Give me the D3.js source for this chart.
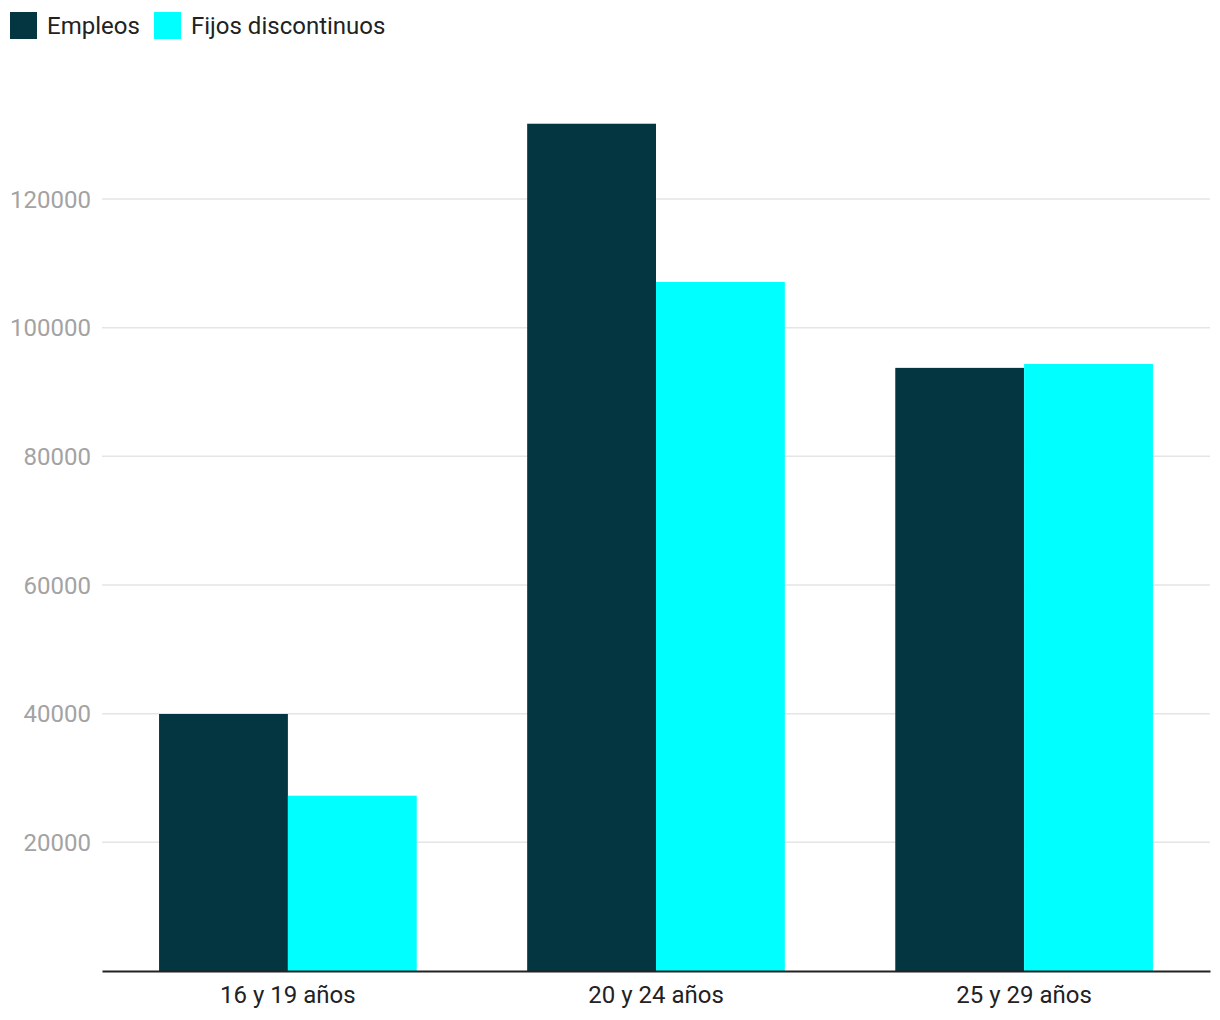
<!DOCTYPE html>
<html><head><meta charset="utf-8">
<script src="https://cdn.jsdelivr.net/npm/d3@7"></script>
<style>body{margin:0;background:#fff;font-family:Roboto,sans-serif}</style>
</head><body>
<svg id="c" width="1220" height="1020"></svg>
<script>
const categories = ["16 y 19 años", "20 y 24 años", "25 y 29 años"];
const seriesNames = ["Empleos", "Fijos discontinuos"];
const empleos = [39950, 131700, 93750];
const fijos = [27250, 107100, 94350];
const yTicks = [20000, 40000, 60000, 80000, 100000, 120000];
const colors = ["#033641", "#00ffff"];

(function () {
const svg = d3.select("#c");
const mLeft = 102, mRight = 1210, mBottom = 971;
const x = d3.scaleBand().domain(categories).range([mLeft, mRight]).paddingInner(0.3).paddingOuter(0.155);
const xs = d3.scaleBand().domain(seriesNames).range([0, x.bandwidth()]);
const y = d3.scaleLinear().domain([0, 120000]).range([mBottom, 199]);

// grid
svg.append("g").selectAll("line").data(yTicks).join("line")
  .attr("x1", mLeft).attr("x2", mRight)
  .attr("y1", d => y(d)).attr("y2", d => y(d))
  .attr("stroke", "#e5e5e5").attr("stroke-width", 1.5);
// y labels
svg.append("g").selectAll("text").data(yTicks).join("text")
  .attr("x", 91).attr("y", d => y(d)).attr("dy", "0.36em")
  .attr("text-anchor", "end").attr("fill", "#a3a3a3")
  .style("font-size", "24px").text(d => d);

const data = [empleos, fijos];
const g = svg.append("g");
seriesNames.forEach((s, si) => {
  g.append("g").selectAll("rect").data(categories).join("rect")
    .attr("x", c => x(c) + xs(s))
    .attr("width", xs.bandwidth())
    .attr("y", (c, i) => y(data[si][i]))
    .attr("height", (c, i) => y(0) - y(data[si][i]))
    .attr("fill", colors[si]);
});

// x axis
const xa = svg.append("g").attr("transform", `translate(0,${mBottom})`)
  .call(d3.axisBottom(x).tickSize(0).tickPadding(15));
xa.select(".domain").attr("stroke", "#222").attr("stroke-width", 2);
xa.selectAll("text").attr("fill", "#222").style("font-size", "24px").style("font-family", "Roboto");

// legend
const leg = svg.append("g");
const lx = [10, 154];
seriesNames.forEach((s, i) => {
  leg.append("rect").attr("x", lx[i]).attr("y", 12).attr("width", 27).attr("height", 27).attr("fill", colors[i]);
  leg.append("text").attr("x", lx[i] + 37).attr("y", 25).attr("dy", "0.36em")
    .attr("fill", "#222").style("font-size", "24px").text(s);
});
})();
</script>
</body></html>
